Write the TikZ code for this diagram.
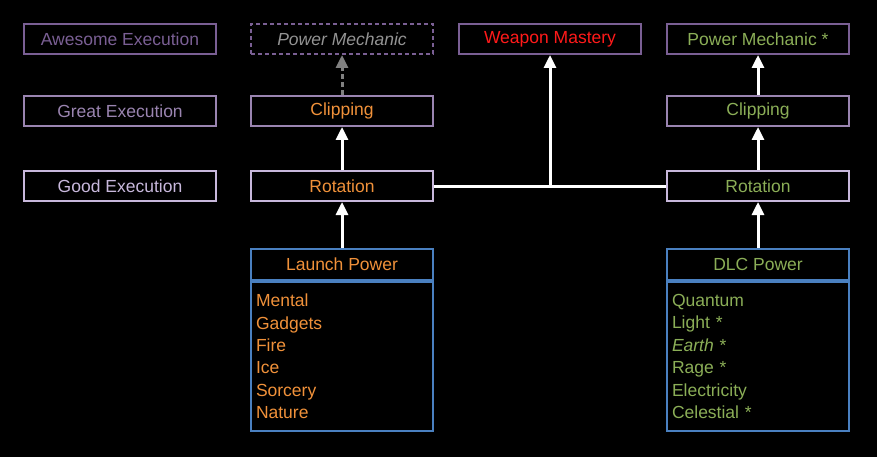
\documentclass[tikz,border=0pt]{standalone}
\usepackage{fontspec}
\setmainfont{Liberation Sans}
\usetikzlibrary{arrows.meta,positioning}
\definecolor{awe}{HTML}{7A5F94}
\definecolor{gre}{HTML}{9A84B0}
\definecolor{goo}{HTML}{C8B8DC}
\definecolor{org}{HTML}{F0913A}
\definecolor{grn}{HTML}{8BAE57}
\definecolor{blu}{HTML}{4A80C0}
\definecolor{wred}{HTML}{FF1A1A}
\tikzset{
  box/.style={draw,line width=2pt,minimum width=182pt,minimum height=30pt,inner sep=0pt,font=\fontsize{17.5}{20}\selectfont},
  lvl/.style={box,minimum width=192pt},
  awesome/.style={draw=awe},
  great/.style={draw=gre},
  good/.style={draw=goo},
  link/.style={-{Triangle[length=13pt,width=12pt]},line width=3pt,white},
  power/.style={draw=blu,line width=2pt,minimum width=182pt,inner sep=0pt,font=\fontsize{17.5}{22.4}\selectfont},
}
\begin{document}
\begin{tikzpicture}[x=1pt,y=-1pt]
  \fill[black] (0,0) rectangle (877,457);
  \useasboundingbox (0,0) rectangle (877,457);

  % skill levels
  \node[lvl,awesome,text=awe] (awe) at (120,39)  {Awesome Execution};
  \node[lvl,great,text=gre]   (gre) at (120,111) {Great Execution};
  \node[lvl,good,text=goo]    (goo) at (120,186) {Good Execution};

  % launch column
  \node[box,draw=awe,dash pattern=on 4pt off 3pt,text=gray!85,font=\fontsize{17.5}{20}\selectfont\itshape] (pmL) at (342,39) {Power Mechanic};
  \node[box,great,text=org] (clipL) at (342,111) {Clipping};
  \node[box,good,text=org]  (rotL)  at (342,186) {Rotation};
  \node[power,minimum height=31pt,text=org] (launch) at (342,264.5) {Launch Power};
  \node[power,minimum height=149pt,below=0pt of launch,text=org,align=left,text width=172pt] (launchL)
    {Mental\\Gadgets\\Fire\\Ice\\Sorcery\\Nature\\[6pt]};

  % weapon
  \node[box,awesome,text=wred] (weapon) at (550,39) {Weapon Mastery};

  % dlc column
  \node[box,awesome,text=grn] (pmR)   at (758,39)  {Power Mechanic *};
  \node[box,great,text=grn]   (clipR) at (758,111) {Clipping};
  \node[box,good,text=grn]    (rotR)  at (758,186) {Rotation};
  \node[power,minimum height=31pt,text=grn] (dlc) at (758,264.5) {DLC Power};
  \node[power,minimum height=149pt,below=0pt of dlc,text=grn,align=left,text width=172pt] (dlcL)
    {Quantum\\Light *\\\textit{Earth} *\\Rage *\\Electricity\\Celestial *\\[6pt]};

  \coordinate (mid) at (550,186);

  \draw[link] (launch) -- (rotL);
  \draw[link] (rotL) -- (clipL);
  \draw[-{Triangle[length=13pt,width=12pt]},line width=3pt,gray,dash pattern=on 5pt off 3pt] (clipL) -- (pmL);
  \draw[link] (dlc) -- (rotR);
  \draw[link] (rotR) -- (clipR);
  \draw[link] (clipR) -- (pmR);
  \draw[white,line width=3pt] (rotL) -- (rotR);
  \draw[link] (mid) -- (weapon);
\end{tikzpicture}
\end{document}
